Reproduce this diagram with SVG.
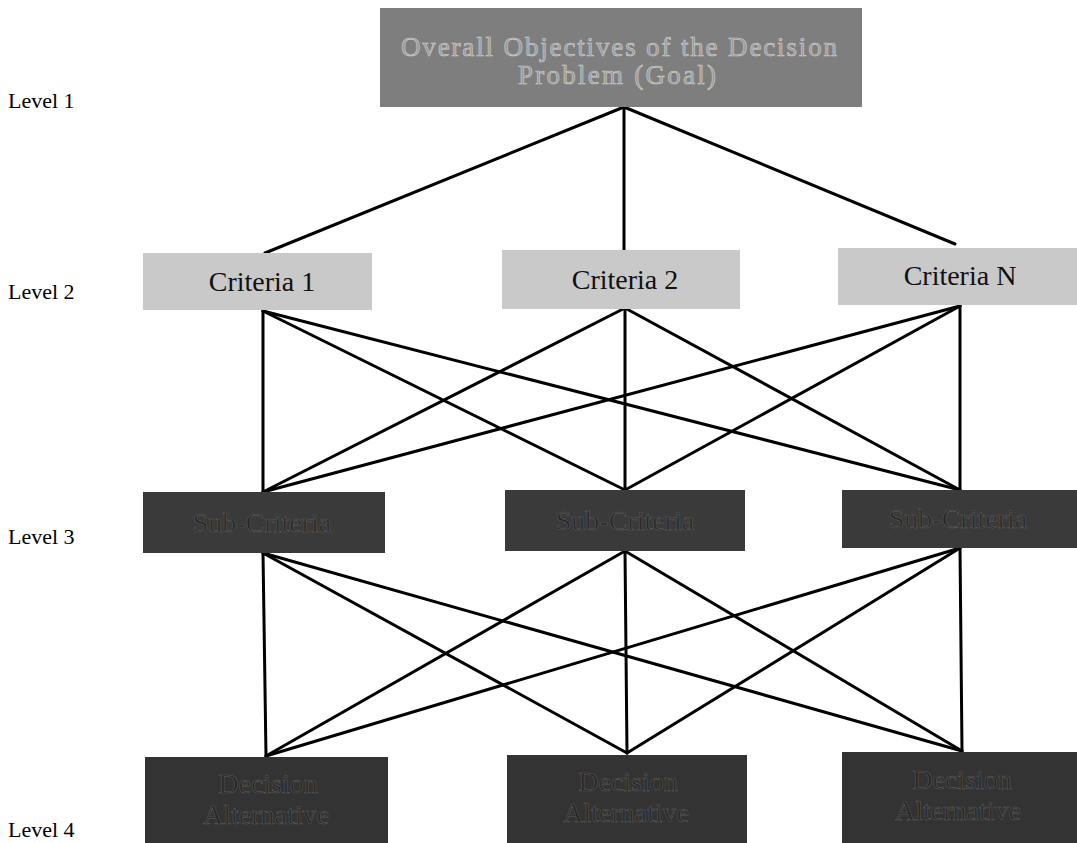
<svg xmlns="http://www.w3.org/2000/svg" width="1077" height="843" viewBox="0 0 1077 843">
<style>
.lvl{font-family:"Liberation Serif","Times New Roman",serif;font-size:22px;fill:#000}
.goal{fill:#7e7e7e}
.crit{fill:#c9c9c9}
.sub{fill:#3a3a3a}
.alt{fill:#333333}
.tg{font-family:"Liberation Serif",serif;font-size:27px;fill:#9a9a9a;stroke:#cfcfcf;stroke-width:0.6;text-anchor:middle}
.tc{font-family:"Liberation Serif",serif;font-size:28px;fill:#111;text-anchor:middle}
.td{font-family:"Liberation Serif",serif;font-size:28px;fill:#262626;stroke:#5a5a5a;stroke-width:0.6;text-anchor:middle}
.conn line{stroke:#000;stroke-width:3;stroke-linecap:round}
</style>
<rect width="1077" height="843" fill="#fff"/>
<g id="labels">
<text class="lvl" x="8" y="108">Level 1</text>
<text class="lvl" x="8" y="299">Level 2</text>
<text class="lvl" x="8" y="544">Level 3</text>
<text class="lvl" x="8" y="837">Level 4</text>
</g>
<g class="conn" id="connectors">
<line x1="624" y1="107" x2="265" y2="253"/>
<line x1="624" y1="107" x2="624" y2="250"/>
<line x1="624" y1="107" x2="955" y2="244"/>
<line x1="263" y1="311" x2="263" y2="492"/>
<line x1="263" y1="311" x2="625" y2="490"/>
<line x1="263" y1="311" x2="960" y2="490"/>
<line x1="625" y1="308" x2="263" y2="492"/>
<line x1="625" y1="308" x2="625" y2="490"/>
<line x1="625" y1="308" x2="960" y2="490"/>
<line x1="960" y1="306" x2="263" y2="492"/>
<line x1="960" y1="306" x2="625" y2="490"/>
<line x1="960" y1="306" x2="960" y2="490"/>
<line x1="263" y1="553" x2="266" y2="756"/>
<line x1="263" y1="553" x2="627" y2="753"/>
<line x1="263" y1="553" x2="962" y2="751"/>
<line x1="625" y1="551" x2="266" y2="756"/>
<line x1="625" y1="551" x2="627" y2="753"/>
<line x1="625" y1="551" x2="962" y2="751"/>
<line x1="960" y1="548" x2="266" y2="756"/>
<line x1="960" y1="548" x2="627" y2="753"/>
<line x1="960" y1="548" x2="962" y2="751"/>
</g>
<g id="goal">
<rect class="goal" x="380" y="8" width="482" height="99"/>
<text class="tg" x="619" y="56" textLength="436" lengthAdjust="spacing">Overall Objectives of the Decision</text>
<text class="tg" x="617" y="84" textLength="198" lengthAdjust="spacing">Problem (Goal)</text>
</g>
<g id="criteria1">
<rect class="crit" x="143" y="253" width="229" height="57"/>
<text class="tc" x="262" y="291">Criteria 1</text>
</g>
<g id="criteria2">
<rect class="crit" x="502" y="250" width="238" height="59"/>
<text class="tc" x="625" y="289">Criteria 2</text>
</g>
<g id="criteriaN">
<rect class="crit" x="838" y="248" width="239" height="57"/>
<text class="tc" x="960" y="285">Criteria N</text>
</g>
<g id="sub1">
<rect class="sub" x="143" y="492" width="242" height="61"/>
<text class="td" x="262" y="532">Sub-Criteria</text>
</g>
<g id="sub2">
<rect class="sub" x="505" y="490" width="240" height="61"/>
<text class="td" x="625" y="530">Sub-Criteria</text>
</g>
<g id="sub3">
<rect class="sub" x="842" y="490" width="235" height="58"/>
<text class="td" x="958" y="528">Sub-Criteria</text>
</g>
<g id="alt1">
<rect class="alt" x="145" y="757" width="243" height="86"/>
<text class="td" x="268" y="793">Decision</text>
<text class="td" x="266" y="824">Alternative</text>
</g>
<g id="alt2">
<rect class="alt" x="507" y="755" width="240" height="88"/>
<text class="td" x="628" y="791">Decision</text>
<text class="td" x="626" y="822">Alternative</text>
</g>
<g id="alt3">
<rect class="alt" x="842" y="752" width="235" height="91"/>
<text class="td" x="962" y="789">Decision</text>
<text class="td" x="958" y="820">Alternative</text>
</g>
</svg>
